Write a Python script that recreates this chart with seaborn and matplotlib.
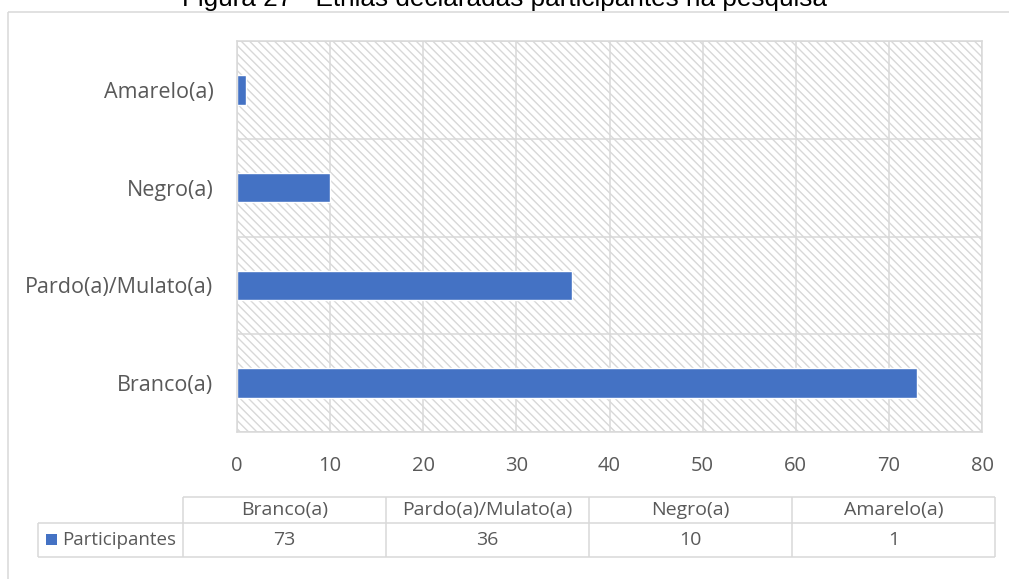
import matplotlib
matplotlib.use("Agg")
import matplotlib.pyplot as plt
import seaborn as sns
import pandas as pd
from matplotlib.patches import Rectangle

# Dados
categorias = ["Branco(a)", "Pardo(a)/Mulato(a)", "Negro(a)", "Amarelo(a)"]
participantes = [73, 36, 10, 1]
serie = "Participantes"
titulo = "Figura 27 - Etnias declaradas participantes na pesquisa"
ticks_x = [0, 10, 20, 30, 40, 50, 60, 70, 80]

df = pd.DataFrame({"etnia": categorias, "participantes": participantes})
ordem = categorias[::-1]  # Branco(a) fica na base do eixo

# Estilo
AZUL = "#4472C4"
GRADE = "#d9d9d9"
HACHURA = "#d8d8d8"
TEXTO = "#595959"

sns.set_style("white")
plt.rcParams["font.family"] = ["Open Sans", "DejaVu Sans"]
plt.rcParams["hatch.linewidth"] = 1.0

W, H = 1009, 579
fig = plt.figure(figsize=(W / 100, H / 100), dpi=100)

# Camada de fundo em pixels: moldura, título e tabela de dados
base = fig.add_axes([0, 0, 1, 1])
base.set_xlim(0, W)
base.set_ylim(H, 0)
base.axis("off")

base.plot([8, 8], [12, H], color=GRADE, lw=1.1, solid_capstyle="butt")
base.plot([8, W], [12, 12], color=GRADE, lw=1.1, solid_capstyle="butt")
base.text(505, 6, titulo, ha="center", va="baseline", fontsize=18.8,
          family=["Liberation Sans", "DejaVu Sans"], color="black")

# Gráfico de barras
ax = fig.add_axes([237 / W, 1 - 432 / H, (982 - 237) / W, (432 - 41) / H])
ax.set_facecolor("white")
ax.add_patch(Rectangle((0, 0), 1, 1, transform=ax.transAxes, facecolor="white",
                       edgecolor=HACHURA, hatch="\\\\\\\\", lw=0, zorder=0))
sns.barplot(data=df, x="participantes", y="etnia", order=ordem, color=AZUL,
            saturation=1, width=0.3, ax=ax, zorder=2)

ax.set_xlim(0, 80)
ax.set_ylim(3.5, -0.5)
ax.set_xticks(ticks_x)
ax.set_yticks(range(len(ordem)), labels=ordem)
ax.set_yticks([i - 0.5 for i in range(len(ordem) + 1)], minor=True)
ax.set_axisbelow(True)
ax.grid(axis="x", which="major", color=GRADE, lw=1.1)
ax.grid(axis="y", which="minor", color=GRADE, lw=1.1)
ax.grid(axis="y", which="major", visible=False)
ax.tick_params(axis="y", which="major", length=0, pad=17, labelsize=15.5, labelcolor=TEXTO)
ax.tick_params(axis="y", which="minor", length=6, width=1.1, color=GRADE)
ax.tick_params(axis="x", length=0, pad=17, labelsize=14.5, labelcolor=TEXTO)
for s in ax.spines.values():
    s.set_color(GRADE)
    s.set_linewidth(1.1)
ax.set_xlabel("")
ax.set_ylabel("")

# Tabela de dados abaixo do eixo
col_x = [183, 386, 589, 792, 995]
y_top, y_mid, y_bot = 497, 523, 557
kw = dict(color=GRADE, lw=1.1, solid_capstyle="butt")
base.plot([col_x[0], col_x[-1]], [y_top, y_top], **kw)
base.plot([38, col_x[-1]], [y_mid, y_mid], **kw)
base.plot([38, col_x[-1]], [y_bot, y_bot], **kw)
base.plot([38, 38], [y_mid, y_bot], **kw)
for x in col_x:
    base.plot([x, x], [y_top, y_bot], **kw)
for i, (cat, val) in enumerate(zip(categorias, participantes)):
    cx = (col_x[i] + col_x[i + 1]) / 2
    base.text(cx, (y_top + y_mid) / 2, cat, ha="center", va="center",
              fontsize=14, color=TEXTO)
    base.text(cx, (y_mid + y_bot) / 2, str(val), ha="center", va="center",
              fontsize=14, color=TEXTO)
base.add_patch(Rectangle((46, 534), 11, 11, facecolor=AZUL, lw=0))
base.text(62, (y_mid + y_bot) / 2, serie, ha="left", va="center",
          fontsize=13.5, color=TEXTO)

fig.savefig("out.png", dpi=100)
